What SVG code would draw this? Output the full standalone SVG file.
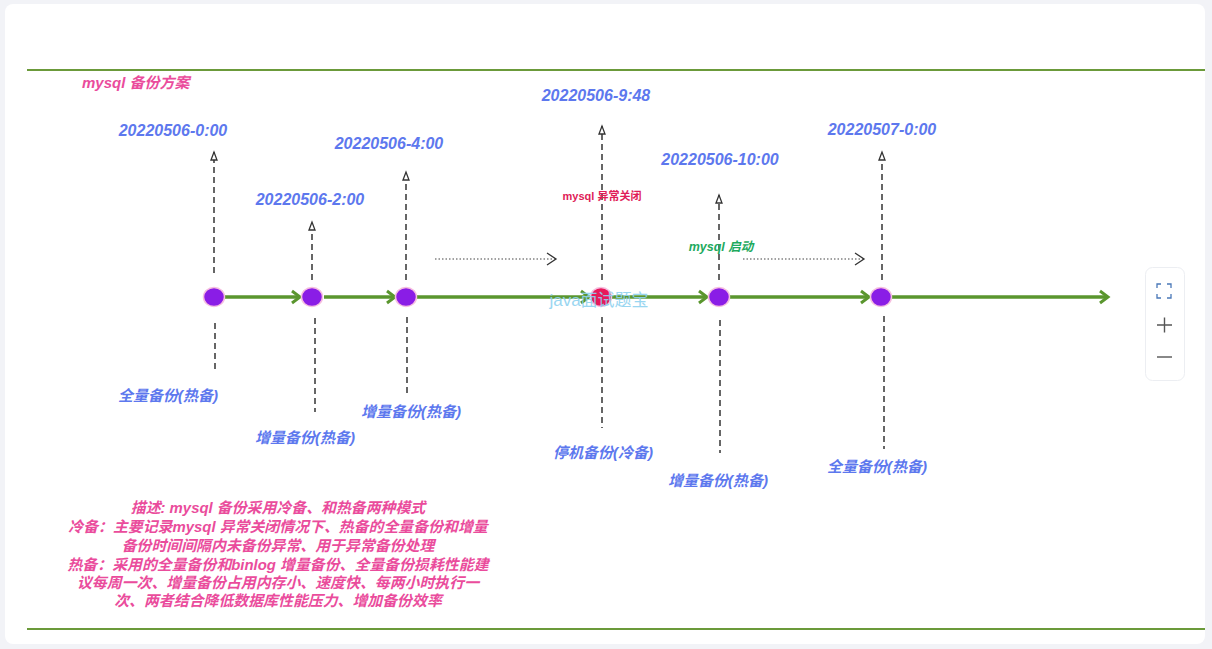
<svg xmlns="http://www.w3.org/2000/svg" width="1212" height="649" viewBox="0 0 1212 649">
<style>
.date{font-family:"Liberation Sans","Noto Sans CJK SC",sans-serif;font-size:16px;font-weight:bold;font-style:italic;fill:#5d78ee;text-anchor:middle}
.lbl{font-family:"Liberation Sans","Noto Sans CJK SC",sans-serif;font-size:15px;font-weight:bold;font-style:italic;fill:#5d78ee;text-anchor:middle}
.desc{font-family:"Liberation Sans","Noto Sans CJK SC",sans-serif;font-size:14.9px;font-weight:bold;font-style:italic;fill:#ea4c9c;text-anchor:middle}
.node{fill:#8a1de6;stroke:#f6bfe0;stroke-width:1.5}
.tl{stroke:#5a962e;stroke-width:3.5;fill:none}
.dash{stroke:#666;stroke-width:2;stroke-dasharray:6 4;fill:none}
.dot{stroke:#444;stroke-width:1.2;stroke-dasharray:1.5 2;fill:none}
.frame{stroke:#6b9a3a;stroke-width:2}
</style>
<defs>
<marker id="g" markerUnits="userSpaceOnUse" markerWidth="14" markerHeight="16" refX="11" refY="8" orient="auto">
<path d="M3,2 L11,8 L3,14" fill="none" stroke="#5a962e" stroke-width="3"/>
</marker>
<marker id="up" markerUnits="userSpaceOnUse" markerWidth="12" markerHeight="10" refX="9" refY="5" orient="auto">
<path d="M1,2 L9,5 L1,8 Z" fill="#fff" stroke="#333" stroke-width="1.3"/>
</marker>
<marker id="ch" markerUnits="userSpaceOnUse" markerWidth="14" markerHeight="16" refX="12" refY="8" orient="auto">
<path d="M3,2 L12,8 L3,14" fill="none" stroke="#333" stroke-width="1.3"/>
</marker>
</defs>
<rect x="0" y="0" width="1212" height="649" fill="#f2f3f7"/>
<rect x="5" y="4" width="1200" height="640" rx="8" fill="#fff"/>
<line class="frame" x1="27" y1="70" x2="1205" y2="70"/>
<line class="frame" x1="27" y1="629" x2="1205" y2="629"/>
<text x="82" y="88" style="font-family:'Liberation Sans','Noto Sans CJK SC',sans-serif;font-size:15px;font-weight:bold;font-style:italic;fill:#ea4c9c">mysql 备份方案</text>

<g id="connectors">
<path class="tl" d="M225,297 H300" marker-end="url(#g)"/>
<path class="tl" d="M324,297 H395" marker-end="url(#g)"/>
<path class="tl" d="M417,297 H589" marker-end="url(#g)"/>
<path class="tl" d="M612,297 H707" marker-end="url(#g)"/>
<path class="tl" d="M730,297 H869" marker-end="url(#g)"/>
<path class="tl" d="M892,297 H1108" marker-end="url(#g)"/>
<path class="dash" d="M214,273 V152" marker-end="url(#up)"/>
<path class="dash" d="M312,280 V222" marker-end="url(#up)"/>
<path class="dash" d="M406,280 V172" marker-end="url(#up)"/>
<path class="dash" d="M602,280 V126" marker-end="url(#up)"/>
<path class="dash" d="M719,280 V195" marker-end="url(#up)"/>
<path class="dash" d="M882,280 V152" marker-end="url(#up)"/>
<path class="dash" d="M215,323 V370"/>
<path class="dash" d="M315,318 V412"/>
<path class="dash" d="M407,317 V393"/>
<path class="dash" d="M602,317 V428"/>
<path class="dash" d="M720,320 V453"/>
<path class="dash" d="M884,316 V449"/>
<path class="dot" d="M435,259 H556" marker-end="url(#ch)"/>
<path class="dot" d="M743,259 H864" marker-end="url(#ch)"/>
</g>

<g id="n1"><ellipse class="node" cx="214" cy="297" rx="10.5" ry="9.5"/>
<text class="date" x="173" y="136">20220506-0:00</text>
<text class="lbl" x="168" y="401">全量备份(热备)</text></g>
<g id="n2"><ellipse class="node" cx="312" cy="297" rx="10.5" ry="9.5"/>
<text class="date" x="310" y="205">20220506-2:00</text>
<text class="lbl" x="305" y="443">增量备份(热备)</text></g>
<g id="n3"><ellipse class="node" cx="406" cy="297" rx="10.5" ry="9.5"/>
<text class="date" x="389" y="149">20220506-4:00</text>
<text class="lbl" x="411" y="417">增量备份(热备)</text></g>
<g id="n4"><ellipse cx="601" cy="297" rx="10.5" ry="9.5" fill="#e8185a" stroke="#f6bfe0" stroke-width="1.5"/>
<text class="date" x="596" y="101">20220506-9:48</text>
<text x="602" y="200" text-anchor="middle" style="font-family:'Liberation Sans','Noto Sans CJK SC',sans-serif;font-size:11px;font-weight:bold;fill:#e01c58">mysql 异常关闭</text>
<text class="lbl" x="603" y="458">停机备份(冷备)</text></g>
<g id="n5"><ellipse class="node" cx="719" cy="297" rx="10.5" ry="9.5"/>
<text class="date" x="720" y="165">20220506-10:00</text>
<text x="721" y="251" text-anchor="middle" style="font-family:'Liberation Sans','Noto Sans CJK SC',sans-serif;font-size:12.5px;font-weight:bold;font-style:italic;fill:#1eaa5e">mysql 启动</text>
<text class="lbl" x="718" y="486">增量备份(热备)</text></g>
<g id="n6"><ellipse class="node" cx="881" cy="297" rx="10.5" ry="9.5"/>
<text class="date" x="882" y="135">20220507-0:00</text>
<text class="lbl" x="877" y="472">全量备份(热备)</text></g>

<text x="599" y="306" text-anchor="middle" style="font-family:'Liberation Sans','Noto Sans CJK SC',sans-serif;font-size:17px;fill:#8fd2f0;opacity:0.9">java面试题宝</text>

<g id="desc">
<text class="desc" x="278" y="513">描述: mysql 备份采用冷备、和热备两种模式</text>
<text class="desc" x="278" y="532">冷备：主要记录mysql 异常关闭情况下、热备的全量备份和增量</text>
<text class="desc" x="278" y="551">备份时间间隔内未备份异常、用于异常备份处理</text>
<text class="desc" x="278" y="570">热备：采用的全量备份和binlog 增量备份、全量备份损耗性能建</text>
<text class="desc" x="278" y="588">议每周一次、增量备份占用内存小、速度快、每两小时执行一</text>
<text class="desc" x="278" y="606">次、两者结合降低数据库性能压力、增加备份效率</text>
</g>

<g id="controls">
<rect x="1145.5" y="267.5" width="39" height="113" rx="7" fill="#fff" stroke="#eceef2"/>
<path d="M1157,288 V284 H1161 M1167,284 H1171 V288 M1171,294 V298 H1167 M1161,298 H1157 V294" fill="none" stroke="#4a78b8" stroke-width="1.3"/>
<path d="M1157,325 H1172 M1164.5,317.5 V332.5" stroke="#555" stroke-width="1.4"/>
<path d="M1157,357 H1172" stroke="#555" stroke-width="1.4"/>
</g>
</svg>
